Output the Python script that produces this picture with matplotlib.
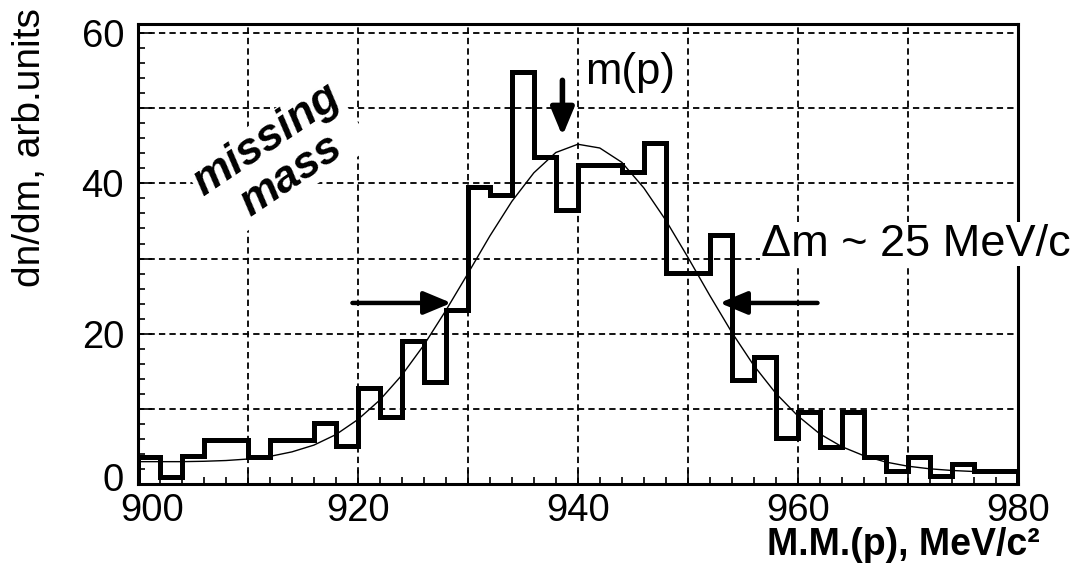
import numpy as np
import matplotlib
matplotlib.use("Agg")
import matplotlib.pyplot as plt
import matplotlib.transforms as mtransforms
from matplotlib.ticker import MultipleLocator, FuncFormatter

# histogram, 2 MeV bins from 900 to 980
bin_edges = np.arange(900, 982, 2)
counts = [3.6, 1.0, 3.7, 5.9, 5.9, 3.6, 5.9, 5.9, 8.1, 5.1,
          12.8, 8.9, 19.0, 13.6, 23.1, 39.5, 38.5, 54.8, 43.5, 36.5,
          42.5, 42.5, 41.5, 45.4, 28.1, 28.1, 33.2, 13.9, 16.9, 6.1,
          9.6, 4.9, 9.6, 3.6, 1.8, 3.6, 1.1, 2.7, 1.8, 1.8]

# fitted curve, read every 2 MeV
fit_x = np.arange(900, 982, 2)
fit_y = [3.0, 3.0, 3.0, 3.05, 3.15, 3.35, 3.7, 4.3, 5.2, 6.6,
         8.6, 11.2, 14.5, 18.5, 23.1, 28.0, 33.0, 37.6, 41.4, 44.1,
         45.2, 44.7, 42.8, 39.4, 35.1, 30.2, 25.1, 20.2, 15.8, 12.1,
         9.1, 6.7, 5.0, 3.8, 2.95, 2.4, 2.05, 1.83, 1.69, 1.6, 1.53]

proton_mass = 938.6
fwhm_left = 928.5
fwhm_right = 952.9
fwhm_level = 24.1

plt.rcParams['font.family'] = ['Liberation Sans', 'DejaVu Sans']


def shift_label(fig, label, dx, dy):
    # move one tick label by a few pixels
    off = mtransforms.ScaledTranslation(dx / 100, dy / 100, fig.dpi_scale_trans)
    label.set_transform(label.get_transform() + off)


def make_plot():
    fig = plt.figure(figsize=(10.78, 5.69), dpi=100)
    ax = fig.add_axes([0.128, 0.149, 0.816, 0.809])

    ax.stairs(counts, bin_edges, baseline=0, color='black', lw=3.6, zorder=2)
    ax.plot(fit_x, fit_y, color='black', lw=1.0, zorder=2.2)

    ax.set_xlim(900, 980)
    ax.set_ylim(0, 61.2)

    ax.xaxis.set_major_locator(MultipleLocator(10))
    ax.xaxis.set_minor_locator(MultipleLocator(2))
    ax.yaxis.set_major_locator(MultipleLocator(10))
    ax.yaxis.set_minor_locator(MultipleLocator(2))
    every20 = FuncFormatter(lambda v, p: '%d' % v if int(round(v)) % 20 == 0 else '')
    ax.xaxis.set_major_formatter(every20)
    ax.yaxis.set_major_formatter(every20)

    ax.tick_params(which='both', direction='in', labelsize=27.5, width=1.2, color='black')
    ax.tick_params(which='major', length=10)
    ax.tick_params(which='minor', length=5)
    ax.tick_params(axis='y', pad=10)
    ax.tick_params(axis='x', pad=6)

    for s in ax.spines.values():
        s.set_linewidth(2.2)

    ax.set_axisbelow(True)
    ax.grid(True, which='major', color='black', lw=1.3, linestyle=(0, (3.5, 2.3)))

    # annotations
    ax.text(912.8, 43.4, 'missing\nmass', rotation=34, ha='center', va='center',
            multialignment='center', linespacing=1.05, fontsize=32,
            fontweight='bold', fontstyle='italic', rotation_mode='anchor',
            bbox=dict(facecolor='white', edgecolor='none', pad=1), zorder=3)

    ax.text(940.7, 54.8, 'm(p)', fontsize=31.5, ha='left', va='center')
    ax.annotate('', xy=(proton_mass, 46.3), xytext=(proton_mass, 53.7),
                arrowprops=dict(arrowstyle='-|>,head_length=0.6,head_width=0.25',
                                lw=4.0, color='black', mutation_scale=28,
                                shrinkA=0, shrinkB=0))

    ax.annotate('', xy=(fwhm_left, fwhm_level), xytext=(919.5, fwhm_level),
                arrowprops=dict(arrowstyle='-|>,head_length=0.6,head_width=0.25',
                                lw=3.2, color='black', mutation_scale=28,
                                shrinkA=0, shrinkB=0))
    ax.annotate('', xy=(fwhm_right, fwhm_level), xytext=(961.8, fwhm_level),
                arrowprops=dict(arrowstyle='-|>,head_length=0.6,head_width=0.25',
                                lw=3.2, color='black', mutation_scale=28,
                                shrinkA=0, shrinkB=0))
    ax.text(956.7, 30.4, '\u0394m ~ 25 MeV/c', fontsize=32.5, ha='left', va='baseline',
            bbox=dict(facecolor='white', edgecolor='none', pad=1), clip_on=False, zorder=4)

    fig.text(1040 / 1078, 1 - 545 / 569, 'M.M.(p), MeV/c\u00b2', fontsize=27,
             fontweight='bold', ha='right', va='center')
    fig.text(30 / 1078, 1 - 148 / 569, 'dn/dm, arb.units', fontsize=28,
             rotation=90, ha='center', va='center')

    fig.canvas.draw()
    for lab in ax.get_xticklabels():
        if lab.get_text() == '900':
            shift_label(fig, lab, 14, 0)
    for lab in ax.get_yticklabels():
        if lab.get_text() == '0':
            shift_label(fig, lab, 0, 7)

    fig.savefig('out.png', dpi=100)


if __name__ == '__main__':
    make_plot()
